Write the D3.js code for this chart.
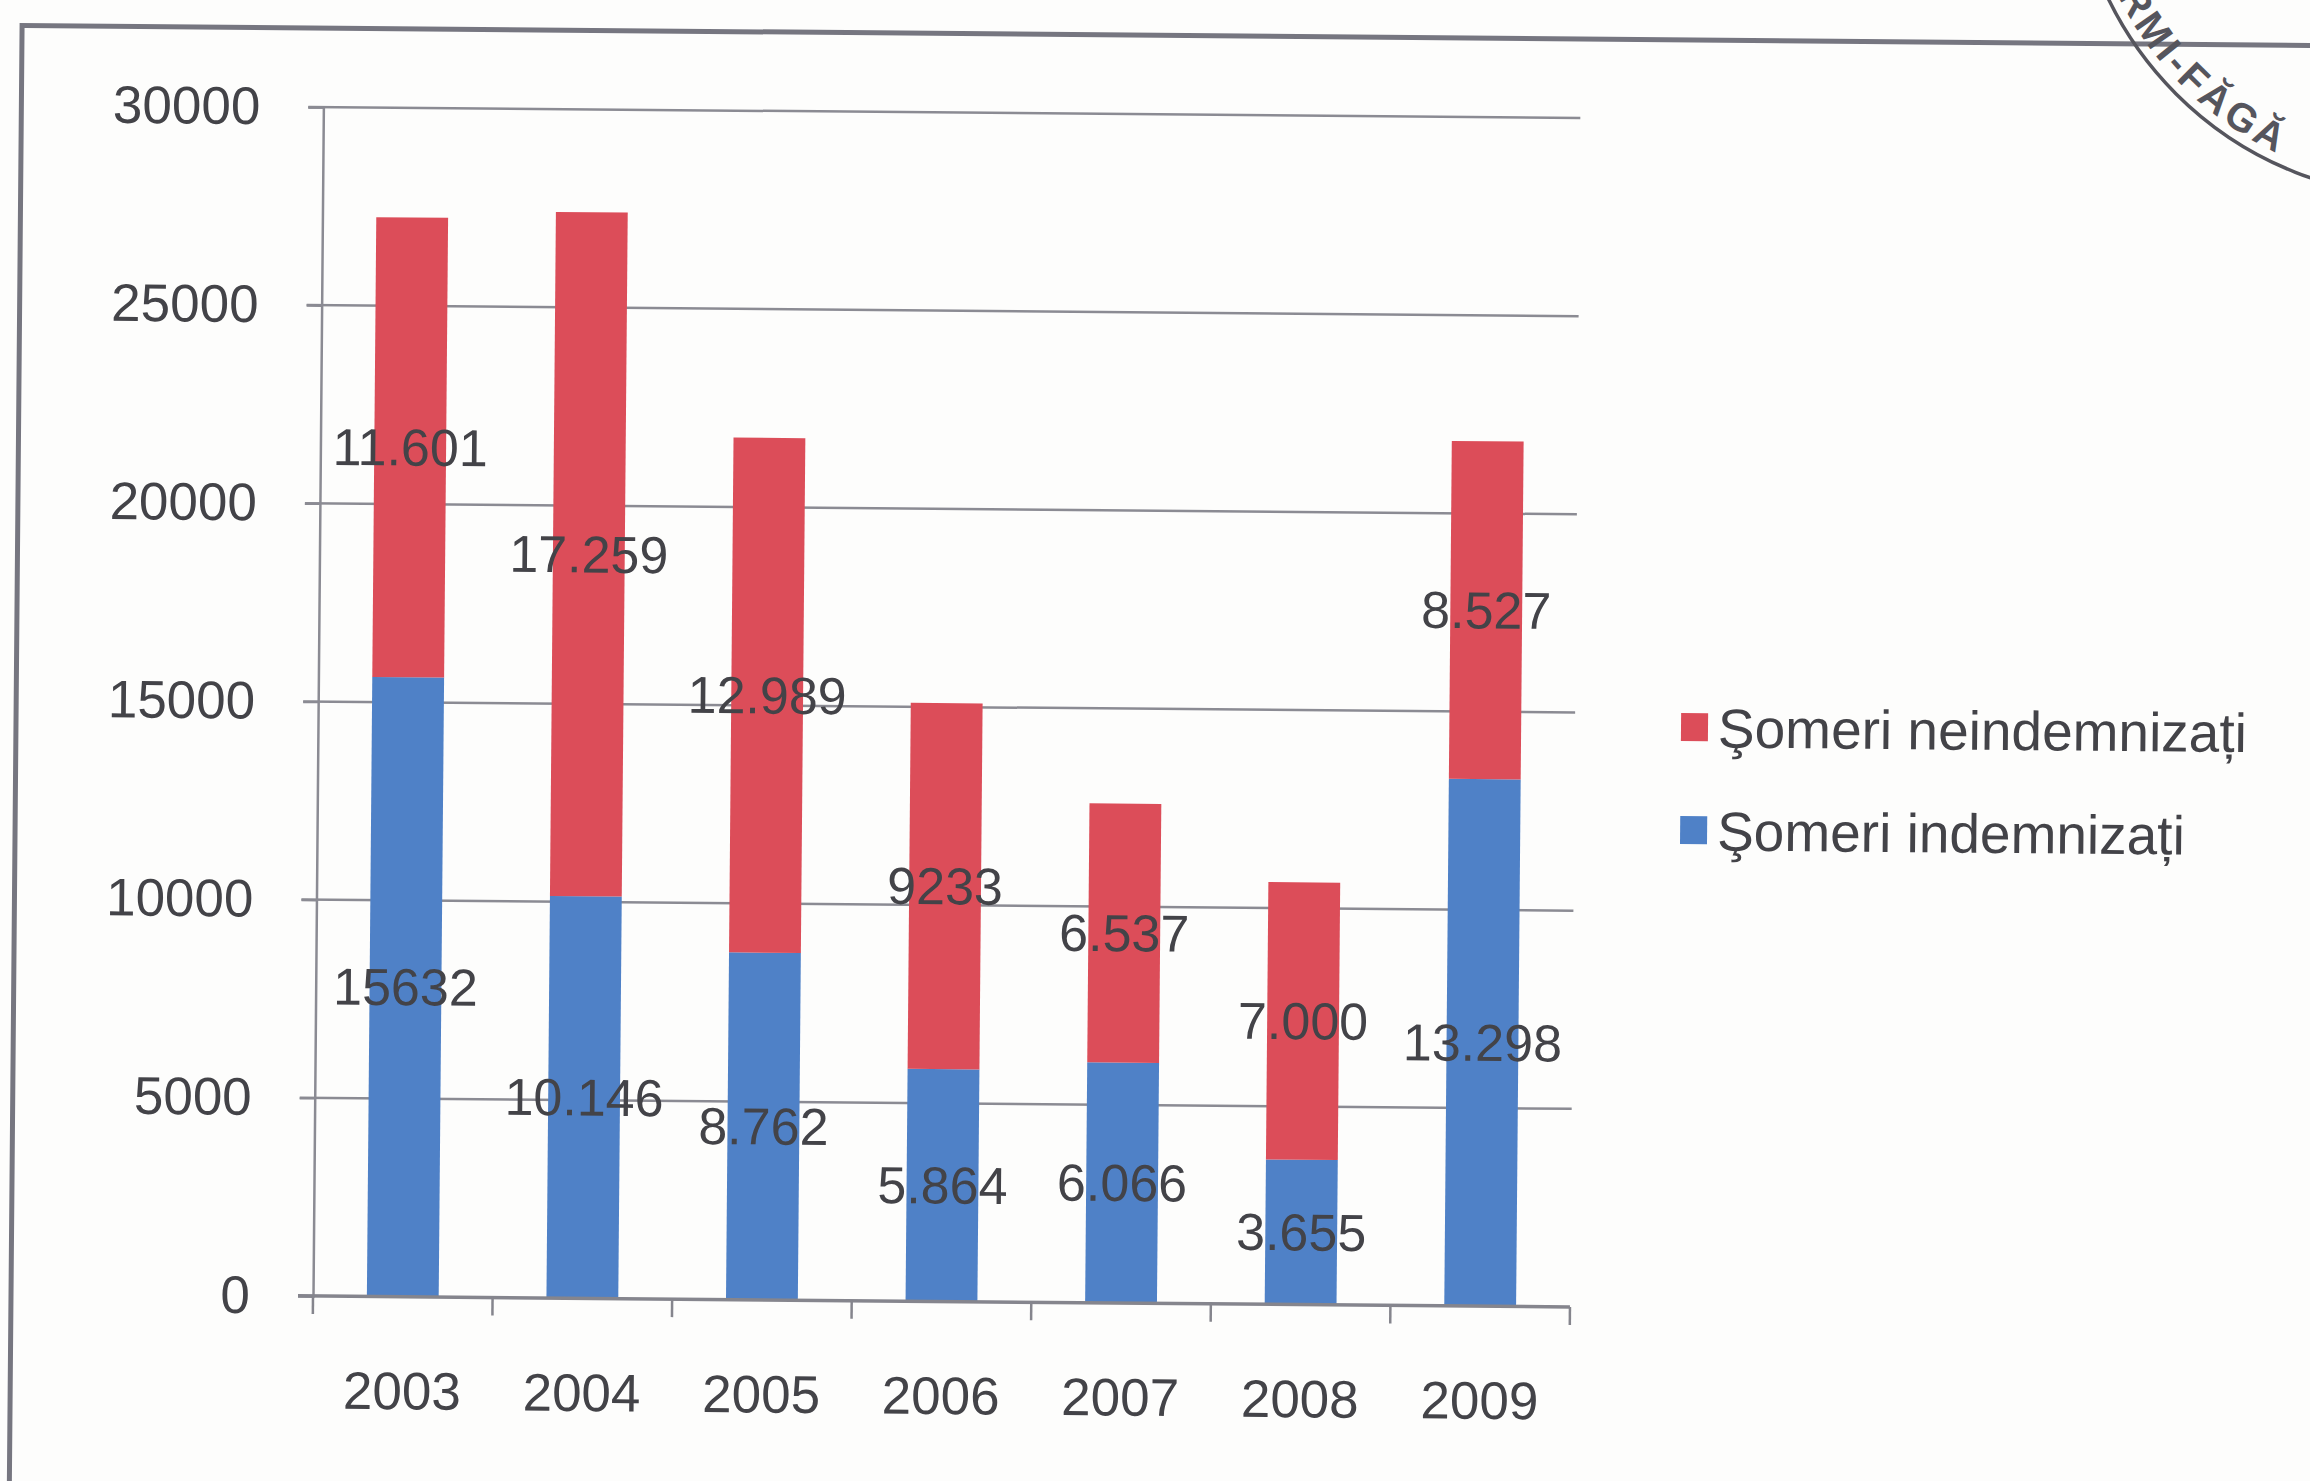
<!DOCTYPE html>
<html>
<head>
<meta charset="utf-8">
<script src="https://cdn.jsdelivr.net/npm/d3@7"></script>
<style>
  html, body { margin: 0; padding: 0; background: #fdfdfc; }
  svg { display: block; }
  text { font-family: "Liberation Sans", Arial, sans-serif; }
</style>
</head>
<body>
<svg id="chart" width="2310" height="1481"></svg>
<script>
// Data
var years = ["2003", "2004", "2005", "2006", "2007", "2008", "2009"];
var indemnizati = [15632, 10146, 8762, 5864, 6066, 3655, 13298];
var neindemnizati = [11601, 17259, 12989, 9233, 6537, 7000, 8527];
var labelsIndemnizati = ["15632", "10.146", "8.762", "5.864", "6.066", "3.655", "13.298"];
var labelsNeindemnizati = ["11.601", "17.259", "12.989", "9233", "6.537", "7.000", "8.527"];
var seriesNames = ["Şomeri indemnizați", "Şomeri neindemnizați"];
var yTicks = [0, 5000, 10000, 15000, 20000, 25000, 30000];

// Colours
var colors = { indemnizati: "#4f81c7", neindemnizati: "#dc4d59" };
var textColor = "#434348";
var gridColor = "#8b8b93";

// Layout
var plot = { left: 313, right: 1570, top: 107, bottom: 1296 };

var svg = d3.select("#chart");

// Whole scanned page is slightly tilted
var page = svg.append("g")
  .attr("transform", "rotate(0.5," + plot.left + "," + plot.bottom + ")");

// Frame of the page
page.append("rect")
  .attr("x", 11).attr("y", 28)
  .attr("width", 2500).attr("height", 1600)
  .attr("fill", "none")
  .attr("stroke", "#767680")
  .attr("stroke-width", 5);

// Scales
var x = d3.scaleBand().domain(years).range([plot.left, plot.right]).paddingInner(0.6).paddingOuter(0.3);
var xb = d3.scaleBand().domain(years).range([plot.left, plot.right]);
var y = d3.scaleLinear().domain([0, 30000]).range([plot.bottom, plot.top]);

// Stack table
var rows = years.map(function (yr, i) {
  return { year: yr, indemnizati: indemnizati[i], neindemnizati: neindemnizati[i], i: i };
});
var stack = d3.stack().keys(["indemnizati", "neindemnizati"])(rows);

// Gridlines
page.append("g").selectAll("line.grid").data(yTicks.filter(function (d) { return d > 0; }))
  .enter().append("line")
  .attr("class", "grid")
  .attr("x1", plot.left - 15).attr("x2", plot.right)
  .attr("y1", function (d) { return y(d); }).attr("y2", function (d) { return y(d); })
  .attr("stroke", gridColor).attr("stroke-width", 2.5);

// Y axis
var yAxis = page.append("g")
  .attr("transform", "translate(" + plot.left + ",0)")
  .call(d3.axisLeft(y).tickValues(yTicks).tickSize(15).tickFormat(d3.format("d")).tickPadding(48));
yAxis.select(".domain").attr("stroke", gridColor).attr("stroke-width", 2.5);
yAxis.selectAll(".tick line").attr("stroke", gridColor).attr("stroke-width", 2.5);
yAxis.selectAll(".tick text")
  .attr("fill", textColor)
  .style("font-size", "53px");

// Bars
var layers = page.append("g").selectAll("g.layer").data(stack)
  .enter().append("g")
  .attr("class", "layer")
  .attr("fill", function (d) { return colors[d.key]; });

layers.selectAll("rect").data(function (d) { return d; })
  .enter().append("rect")
  .attr("x", function (d) { return x(d.data.year); })
  .attr("width", x.bandwidth())
  .attr("y", function (d) { return y(d[1]); })
  .attr("height", function (d) { return y(d[0]) - y(d[1]); });

// X axis
var xAxis = page.append("g")
  .attr("transform", "translate(0," + plot.bottom + ")");
xAxis.append("line")
  .attr("x1", plot.left - 15).attr("x2", plot.right)
  .attr("stroke", "#85858d").attr("stroke-width", 3.5);
xAxis.selectAll("line.tk").data(years.concat(["end"]))
  .enter().append("line")
  .attr("class", "tk")
  .attr("x1", function (d, i) { return plot.left + i * xb.bandwidth(); })
  .attr("x2", function (d, i) { return plot.left + i * xb.bandwidth(); })
  .attr("y1", 0).attr("y2", 18)
  .attr("stroke", "#85858d").attr("stroke-width", 2.5);
xAxis.selectAll("text").data(years)
  .enter().append("text")
  .attr("x", function (d) { return xb(d) + xb.bandwidth() / 2; })
  .attr("y", 94)
  .attr("dy", "0.35em")
  .attr("text-anchor", "middle")
  .attr("fill", textColor)
  .style("font-size", "53px")
  .text(function (d) { return d; });

// Data labels
var labelSets = { indemnizati: labelsIndemnizati, neindemnizati: labelsNeindemnizati };
layers.selectAll("text").data(function (d) { return d.map(function (p) { return { p: p, key: d.key }; }); })
  .enter().append("text")
  .attr("x", function (d) { return x(d.p.data.year) + x.bandwidth() / 2; })
  .attr("y", function (d) { return y((d.p[0] + d.p[1]) / 2); })
  .attr("dy", "0.35em")
  .attr("text-anchor", "middle")
  .attr("fill", textColor)
  .style("font-size", "52px")
  .text(function (d) { return labelSets[d.key][d.p.data.i]; });

// Legend
var legendData = [seriesNames[1], seriesNames[0]];
var legendColors = [colors.neindemnizati, colors.indemnizati];
var legend = page.append("g").selectAll("g.legend").data(legendData)
  .enter().append("g")
  .attr("class", "legend")
  .attr("transform", function (d, i) { return "translate(1676," + (716 + i * 103) + ")"; });
legend.append("rect")
  .attr("x", 0).attr("y", -15)
  .attr("width", 27).attr("height", 28)
  .attr("fill", function (d, i) { return legendColors[i]; });
legend.append("text")
  .attr("x", 37).attr("y", 0)
  .attr("dy", "0.35em")
  .attr("fill", textColor)
  .style("font-size", "55px")
  .text(function (d) { return d; });

// Stamp in the top right corner
var stamp = { cx: 2425, cy: -155, r: 352, rt: 342 };
svg.append("circle")
  .attr("cx", stamp.cx).attr("cy", stamp.cy).attr("r", stamp.r)
  .attr("fill", "none").attr("stroke", "#55555d").attr("stroke-width", 3.5);
var a0 = 175 * Math.PI / 180, a1 = 60 * Math.PI / 180;
svg.append("path")
  .attr("id", "stampArc")
  .attr("fill", "none")
  .attr("d", "M" + (stamp.cx + stamp.rt * Math.cos(a0)) + "," + (stamp.cy + stamp.rt * Math.sin(a0)) +
    " A" + stamp.rt + "," + stamp.rt + " 0 0 0 " +
    (stamp.cx + stamp.rt * Math.cos(a1)) + "," + (stamp.cy + stamp.rt * Math.sin(a1)));
svg.append("text")
  .attr("fill", "#55555d")
  .style("font-size", "40px")
  .style("font-weight", "bold")
  .style("letter-spacing", "4px")
  .append("textPath")
  .attr("href", "#stampArc")
  .attr("startOffset", (175 - 154) * Math.PI / 180 * stamp.rt)
  .text("RMI-FĂGĂ");
</script>
</body>
</html>
